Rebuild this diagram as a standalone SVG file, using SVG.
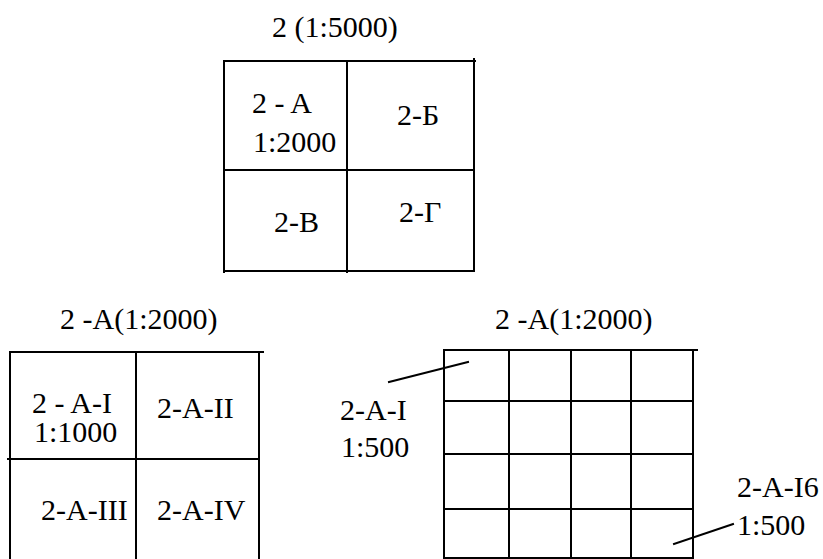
<svg xmlns="http://www.w3.org/2000/svg" width="823" height="559" viewBox="0 0 823 559">
<style>
.ln{stroke:#000;stroke-width:2;fill:none;stroke-linecap:square}
.t{font-family:"Liberation Serif","Times New Roman",serif;font-size:30px;fill:#000}
</style>
<rect width="823" height="559" fill="#fff"/>
<g id="sheet-2">
<text class="t" x="272" y="37">2 (1:5000)</text>
<path class="ln" d="M224 61H475M224 170H474M226 271H474M224 61V272M347 61V272M474 59V270"/>
<text class="t" x="252" y="113">2 - A</text>
<text class="t" x="253" y="152">1:2000</text>
<text class="t" x="397" y="125">2-Б</text>
<text class="t" x="274" y="232">2-В</text>
<text class="t" x="399" y="222">2-Г</text>
</g>
<g id="sheet-2A-1000">
<text class="t" x="60" y="329">2 -A(1:2000)</text>
<path class="ln" d="M11 352H263M8 459H259M10 352V559M136 352V559M259 352V559"/>
<text class="t" x="32" y="413">2 - A-I</text>
<text class="t" x="34" y="442">1:1000</text>
<text class="t" x="157" y="418">2-A-II</text>
<text class="t" x="41" y="520">2-A-III</text>
<text class="t" x="157" y="520">2-A-IV</text>
</g>
<g id="sheet-2A-500">
<text class="t" x="495" y="329">2 -A(1:2000)</text>
<path class="ln" d="M444 350H697M444 401H693M444 454H693M444 509H693M444 558H693M444 350V558M509 350V558M571 350V558M631 350V558M693 350V558"/>
<text class="t" x="340" y="420">2-A-I</text>
<text class="t" x="341" y="457">1:500</text>
<text class="t" x="737" y="497">2-A-I6</text>
<text class="t" x="737" y="535">1:500</text>
</g>
<g id="connectors">
<line class="ln" x1="389" y1="382" x2="468" y2="362"/>
<line class="ln" x1="674" y1="544" x2="733" y2="524"/>
</g>
</svg>
